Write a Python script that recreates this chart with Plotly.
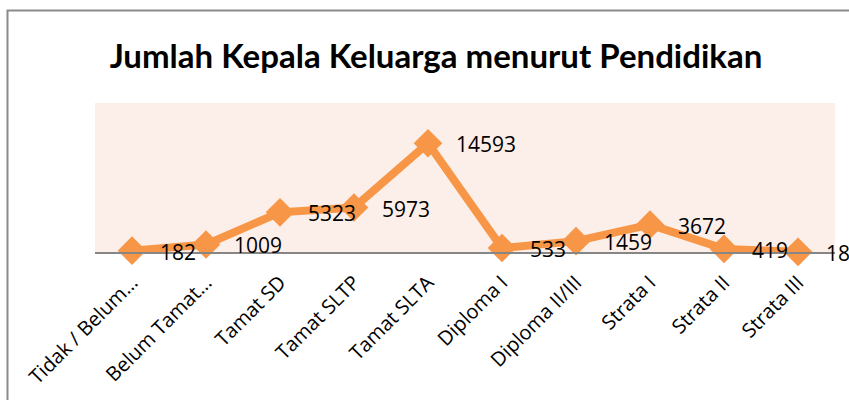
import plotly.graph_objects as go

categories = ["Tidak / Belum…", "Belum Tamat…", "Tamat SD", "Tamat SLTP", "Tamat SLTA",
              "Diploma I", "Diploma II/III", "Strata I", "Strata II", "Strata III"]
values = [182, 1009, 5323, 5973, 14593, 533, 1459, 3672, 419, 18]
title_text = "Jumlah Kepala Keluarga menurut Pendidikan"

W, H = 849, 400
L, R, T, B = 95, 14, 103, 148
pw, ph = W - L - R, H - T - B

fig = go.Figure()
fig.add_trace(go.Scatter(
    x=categories, y=values, mode="lines+markers",
    line=dict(color="#F79646", width=8),
    marker=dict(symbol="diamond", size=22, color="#F79646"),
    cliponaxis=False, hoverinfo="skip",
))

for c, v in zip(categories, values):
    fig.add_annotation(x=c, y=v, text=str(v), showarrow=False,
                       xanchor="left", yanchor="middle", xshift=26, yshift=-1,
                       font=dict(family="Open Sans", size=21, color="#000000"))

def px_x(p):
    return (p - L) / pw

def px_y(p):
    return (H - B - p) / ph

fig.add_shape(type="rect", xref="paper", yref="paper",
              x0=px_x(7.5), x1=px_x(870), y0=px_y(10.5), y1=px_y(420),
              line=dict(color="#8A8A8A", width=2), fillcolor="rgba(0,0,0,0)", layer="below")

fig.update_layout(
    width=W, height=H,
    margin=dict(l=L, r=R, t=T, b=B, autoexpand=False),
    paper_bgcolor="white", plot_bgcolor="#FCEEE9",
    showlegend=False,
    title=dict(text="<b>" + title_text + "</b>", x=436 / W, xanchor="center",
               y=1 - 56 / H, yanchor="middle",
               font=dict(family="Lato", size=33, color="#000000")),
    xaxis=dict(type="category", range=[-0.5, 9.5], tickangle=-45, automargin=False,
               showline=True, linecolor="#868686", linewidth=2,
               showgrid=False, zeroline=False, ticks="", ticklabelstandoff=9,
               tickfont=dict(family="Open Sans", size=20, color="#000000")),
    yaxis=dict(range=[0, 20000], visible=False, showgrid=False, zeroline=False,
               automargin=False),
)

fig.write_html("out.html", config={"displayModeBar": False},
               post_script="document.body.style.margin='0px';document.body.style.overflow='hidden';")
